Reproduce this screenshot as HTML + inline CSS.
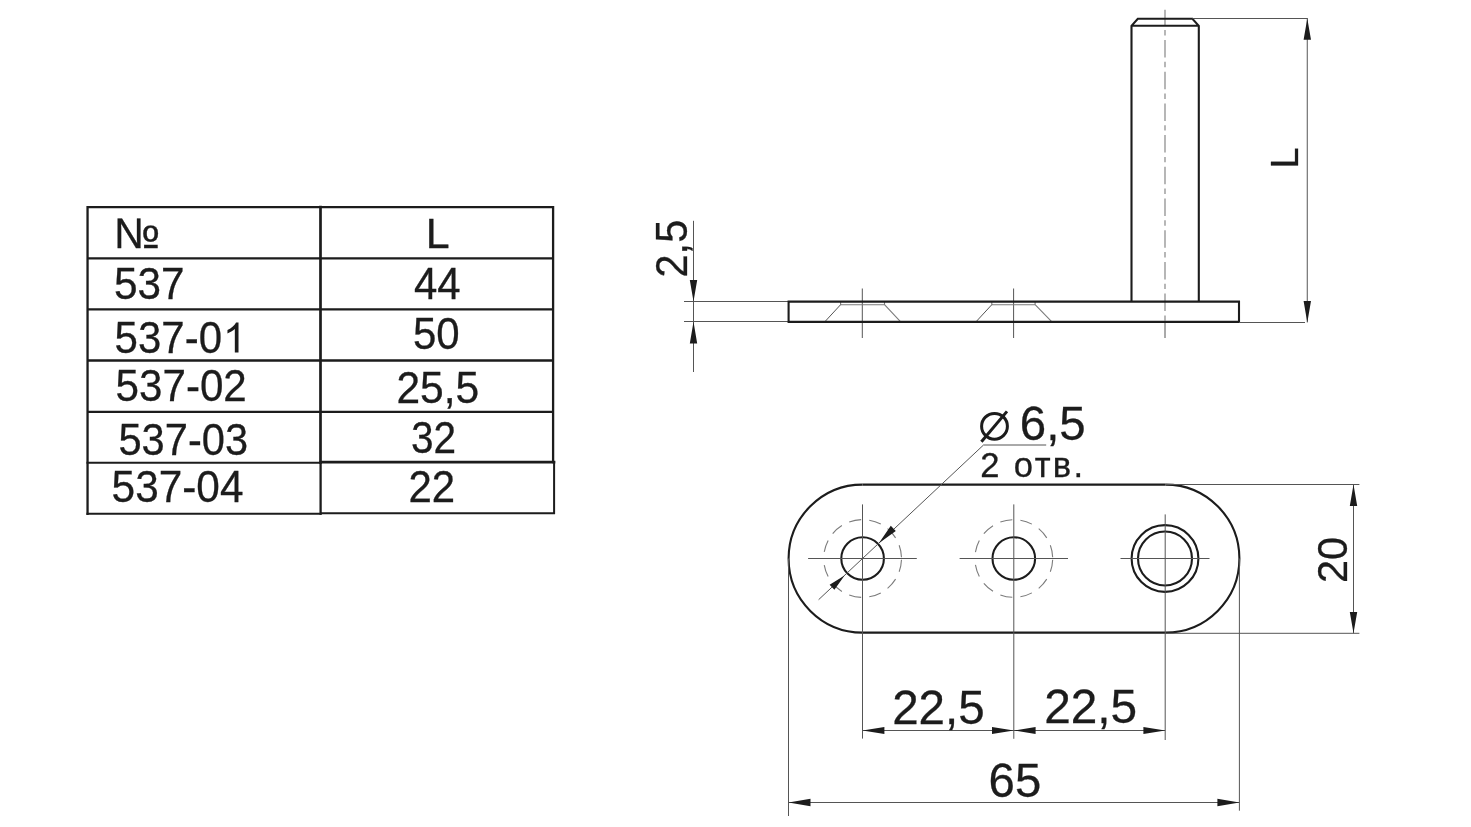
<!DOCTYPE html>
<html><head><meta charset="utf-8"><title>537</title>
<style>
html,body{margin:0;padding:0;background:#fff;}
body{width:1471px;height:827px;overflow:hidden;font-family:"Liberation Sans",sans-serif;}
svg{display:block;will-change:transform;filter:grayscale(1)}
text{font-family:"Liberation Sans",sans-serif;fill:#1c1c1c;stroke:#1c1c1c;stroke-width:0.3}
.k{stroke:#1c1c1c;stroke-width:2.1;fill:none}
.t{stroke:#555;stroke-width:1;fill:none}
.g{stroke:#7c7c7c;stroke-width:1.1;fill:none}
.a{fill:#1c1c1c;stroke:none}
</style></head><body>
<svg width="1471" height="827" viewBox="0 0 1471 827">
<rect width="1471" height="827" fill="#ffffff"/>
<!-- TABLE -->
<g id="table">
<g stroke="#1c1c1c" fill="none" stroke-linecap="square">
<path stroke-width="2.3" d="M87.55 207.15V513.8M87.55 207.15H553.1V462M87.55 258.4H553.1M87.55 309.4H553.1M87.55 360.5H553.1M87.55 411.8H553.1"/>
<path stroke-width="2.1" d="M87.55 462.7H320.5M87.55 513.8H320.5"/>
<path stroke-width="2.7" d="M320.5 207.15V462.5"/>
<path stroke-width="2.3" d="M320.6 462.5V513.6"/>
<path stroke-width="2.6" d="M321 462.1H554"/>
<path stroke-width="2" d="M554.1 462.1V513.2H321"/>
</g>
<text id="t_no" x="113.8" y="247.5" font-size="42.8" textLength="46.4" lengthAdjust="spacingAndGlyphs">№</text>
<text id="t_r1" x="114.1" y="299.1" font-size="43.6" textLength="70.5" lengthAdjust="spacingAndGlyphs">537</text>
<text id="t_r2" x="114.6" y="352.5" font-size="43.6" textLength="107.4" lengthAdjust="spacingAndGlyphs">537-0</text>
<path id="one_r2" class="a" transform="translate(222.9 352.5) scale(0.02046 -0.02046)" d="M763 0H583V1147Q518 1085 412.5 1023T223 930V1104Q373 1174.5 485 1275T644 1470H763Z"/>
<text id="t_r3" x="115.6" y="400.8" font-size="43.6" textLength="131.2" lengthAdjust="spacingAndGlyphs">537-02</text>
<text id="t_r4" x="118.4" y="454.9" font-size="43.6" textLength="129.7" lengthAdjust="spacingAndGlyphs">537-03</text>
<text id="t_r5" x="111.6" y="502.1" font-size="43.6" textLength="131.89999999999998" lengthAdjust="spacingAndGlyphs">537-04</text>
<text id="t_L" x="425.8" y="248.4" font-size="43">L</text>
<text id="t_v1" x="413.9" y="298.8" font-size="43.6" textLength="46.7" lengthAdjust="spacingAndGlyphs">44</text>
<text id="t_v2" x="413.0" y="349.2" font-size="43.6" textLength="46.7" lengthAdjust="spacingAndGlyphs">50</text>
<text id="t_v3" x="396.4" y="402.6" font-size="43.6" textLength="82.7" lengthAdjust="spacingAndGlyphs">25,5</text>
<text id="t_v4" x="411" y="453.4" font-size="43.6" textLength="45.2" lengthAdjust="spacingAndGlyphs">32</text>
<text id="t_v5" x="408.4" y="502.3" font-size="43.6" textLength="46.7" lengthAdjust="spacingAndGlyphs">22</text>
</g>
<!-- SIDE VIEW -->
<g id="side">
<!-- 2,5 dimension -->
<path class="t" d="M693.5 220.8V372M684 301.5H788M684 321.5H788"/>
<path class="a" d="M693.5 301.5l-3.7 -21.5h7.4zM693.5 321.8l-3.7 21.8h7.4z"/>
<text id="t_25" transform="translate(686.9 277.5) rotate(-90)" font-size="44.6" textLength="57.8" lengthAdjust="spacingAndGlyphs">2,5</text>
<!-- hole centre lines -->
<path class="t" d="M862.3 288.5V338M1013.6 288.5V338M1165 322.5V338"/>
<!-- countersinks -->
<path class="g" d="M840.6 301.6V304.7H884.5V301.6M884.5 304.7L900.7 321.9M991.8 301.6V304.7H1035.1V301.6M1035.1 304.7L1051.9 321.9"/>
<path class="t" d="M840.6 304.7L824.7 321.9M991.8 304.7L975.9 321.9"/>
<!-- pin centre line -->
<path class="g" d="M1165 9.8V322" stroke-dasharray="17.5 4.3 5.4 4.5" stroke-dashoffset="1.5" stroke-width="1.3"/>
<!-- plate -->
<path class="k" d="M788.6 301.6H1239V321.9H788.6Z"/>
<!-- pin -->
<path class="k" d="M1131.5 301.6V25.8L1137.8 18.8H1192.4L1198.8 25.8V301.6M1131.5 25.8H1198.8"/>
<!-- L dimension -->
<path class="t" d="M1192.4 18.5H1307.8M1239 322.5H1305M1307.25 18.5V322.4"/>
<path class="a" d="M1307.3 18.5l-3.7 21.3h7.4zM1307.3 322.4l-3.7 -21.3h7.4z"/>
<text id="t_Lr" transform="translate(1297.6 168.4) rotate(-90)" font-size="38">L</text>
</g>
<!-- TOP VIEW -->
<g id="top">
<!-- slot -->
<path class="k" d="M862.6 484.6H1165.4M862.6 632.6H1165.4"/>
<path class="k" stroke-width="1.75" d="M1165.4 484.6A74 74 0 0 1 1165.4 632.6M862.6 632.6A74 74 0 0 1 862.6 484.6"/>
<!-- holes -->
<circle class="k" cx="862.6" cy="558.5" r="21.3" stroke-width="1.85"/>
<circle class="k" cx="1013.8" cy="558.5" r="21.3" stroke-width="1.85"/>
<path class="g" stroke-dasharray="12.2 8.17" stroke-dashoffset="19" d="M901.5 558.5A38.9 38.9 0 0 0 823.7 558.5M901.5 558.5A38.9 38.9 0 0 1 823.7 558.5"/>
<path class="g" stroke-dasharray="12.2 8.17" stroke-dashoffset="19" d="M1052.7 558.5A38.9 38.9 0 0 0 974.9 558.5M1052.7 558.5A38.9 38.9 0 0 1 974.9 558.5"/>
<circle class="k" cx="1165" cy="558.5" r="33.4" stroke-width="1.8"/>
<circle class="k" cx="1165" cy="558.5" r="27" stroke-width="1.8"/>
<!-- crosses -->
<path class="t" d="M808.1 558.5H916.8M959.6 558.5H1068M1120.5 558.5H1209.5"/>
<path class="t" d="M862.5 504.4V738.6M1013.8 504.4V738.8M1165.2 514.4V740"/>
<!-- extension lines for 65 -->
<path class="t" d="M788.5 558.5V816M1239.4 558.5V810.7"/>
<!-- 22,5 dims -->
<path class="t" d="M862.6 730.5H1165.2"/>
<path class="a" d="M862.6 730.5l21.8 -3.55v7.1zM1013.8 730.5l-21.8 -3.55v7.1zM1013.8 730.5l21.8 -3.55v7.1zM1165.2 730.5l-21.8 -3.55v7.1z"/>
<text id="t_d1" x="892.2" y="723.5" font-size="48" textLength="92.5" lengthAdjust="spacingAndGlyphs">22,5</text>
<text id="t_d2" x="1044.2" y="722.7" font-size="48" textLength="93.0" lengthAdjust="spacingAndGlyphs">22,5</text>
<!-- 65 dim -->
<path class="t" d="M788.5 802.5H1239.4"/>
<path class="a" d="M788.5 802.5l22 -3.7v7.4zM1239.4 802.5l-22 -3.7v7.4z"/>
<text id="t_65" x="988.6" y="797.3" font-size="48" textLength="52.6" lengthAdjust="spacingAndGlyphs">65</text>
<!-- 20 dim -->
<path class="t" d="M1165.4 484.5H1359.4M1165.4 633.3H1359.4M1353.5 484.5V633.3"/>
<path class="a" d="M1353.5 484.5l-3.7 21.6h7.4zM1353.5 633.3l-3.7 -21.4h7.4z"/>
<text id="t_20" transform="translate(1346.9 583) rotate(-90)" font-size="43" textLength="46" lengthAdjust="spacingAndGlyphs">20</text>
<!-- leader -->
<path class="t" d="M818.6 599.7L983.5 445H1046.2"/>
<path class="a" d="M878.8 543.3L895.8 531.1L890.8 525.7ZM844.6 575.4L834.4 589.8L829.6 584.7Z"/>
<!-- diameter symbol -->
<circle cx="994.5" cy="426.3" r="12.9" fill="none" stroke="#1c1c1c" stroke-width="3"/>
<path d="M981.4 441.8L1007 411.4" stroke="#1c1c1c" stroke-width="3" fill="none"/>
<text id="t_65d" x="1019.8" y="440.4" font-size="48.5" textLength="65.9" lengthAdjust="spacingAndGlyphs">6,5</text>
<text id="t_otv" x="980.2" y="476.5" font-size="34.6" textLength="103" lengthAdjust="spacing" stroke="#1c1c1c" stroke-width="0.6">2 отв.</text>
</g>
</svg>
</body></html>
